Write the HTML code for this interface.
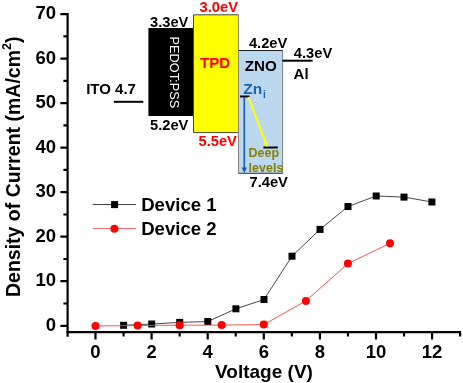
<!DOCTYPE html>
<html><head><meta charset="utf-8"><style>
html,body{margin:0;padding:0;background:#fff;}
svg{display:block;}
text{font-family:"Liberation Sans",Arial,sans-serif;}
.b{font-weight:bold;}
</style></head><body>
<svg width="463" height="383" viewBox="0 0 463 383">
<rect x="0" y="0" width="463" height="383" fill="#fff"/>
<!-- axes -->
<g stroke="#000" stroke-width="2.2" fill="none">
<line x1="67.6" y1="13" x2="67.6" y2="336.8"/>
<line x1="66.5" y1="332.2" x2="461" y2="332.2"/>
<!-- y major ticks -->
<path d="M60.4 14.1H67.6M60.4 58.6H67.6M60.4 103.1H67.6M60.4 147.6H67.6M60.4 192.2H67.6M60.4 236.7H67.6M60.4 281.2H67.6M60.4 325.8H67.6"/>
<!-- y minor ticks -->
<path d="M63.4 36.4H67.6M63.4 80.9H67.6M63.4 125.4H67.6M63.4 169.9H67.6M63.4 214.5H67.6M63.4 259H67.6M63.4 303.5H67.6"/>
<!-- x major ticks -->
<path d="M95.5 332.2V339.4M151.6 332.2V339.4M207.7 332.2V339.4M263.8 332.2V339.4M319.9 332.2V339.4M376 332.2V339.4M432.1 332.2V339.4"/>
<!-- x minor ticks -->
<path d="M123.55 332.2V336.6M179.65 332.2V336.6M235.75 332.2V336.6M291.85 332.2V336.6M347.95 332.2V336.6M404.05 332.2V336.6M460.1 332.2V336.6"/>
</g>
<!-- y tick labels -->
<g class="b" font-size="18.5" text-anchor="end">
<text x="56" y="19.3">70</text>
<text x="56" y="63.8">60</text>
<text x="56" y="108.3">50</text>
<text x="56" y="152.8">40</text>
<text x="56" y="197.4">30</text>
<text x="56" y="241.9">20</text>
<text x="56" y="286.4">10</text>
<text x="56" y="331">0</text>
</g>
<!-- x tick labels -->
<g class="b" font-size="18.5" text-anchor="middle">
<text x="95.5" y="358">0</text>
<text x="151.6" y="358">2</text>
<text x="207.7" y="358">4</text>
<text x="263.8" y="358">6</text>
<text x="319.9" y="358">8</text>
<text x="376" y="358">10</text>
<text x="432.1" y="358">12</text>
</g>
<!-- axis titles -->
<text class="b" font-size="19" x="264" y="377.6" text-anchor="middle">Voltage (V)</text>
<text class="b" font-size="19.5" transform="translate(20.4,297) rotate(-90)">Density of Current (mA/cm<tspan font-size="12.5" dy="-9">2</tspan><tspan dy="9">)</tspan></text>

<!-- Device 1 -->
<polyline fill="none" stroke="#333" stroke-width="0.9" points="123.6,325.3 151.7,324 179.7,322.4 207.8,321.5 235.9,308.8 264,299.5 292,256.2 320,229.4 348,206.5 376.2,196 404,197.1 431.9,202"/>
<g fill="#000">
<rect x="120.1" y="321.8" width="7" height="7"/>
<rect x="148.2" y="320.5" width="7" height="7"/>
<rect x="176.2" y="318.9" width="7" height="7"/>
<rect x="204.3" y="318" width="7" height="7"/>
<rect x="232.4" y="305.3" width="7" height="7"/>
<rect x="260.5" y="296" width="7" height="7"/>
<rect x="288.5" y="252.7" width="7" height="7"/>
<rect x="316.5" y="225.9" width="7" height="7"/>
<rect x="344.5" y="203" width="7" height="7"/>
<rect x="372.7" y="192.5" width="7" height="7"/>
<rect x="400.5" y="193.6" width="7" height="7"/>
<rect x="428.4" y="198.5" width="7" height="7"/>
</g>
<!-- Device 2 -->
<polyline fill="none" stroke="#ff4040" stroke-width="0.9" points="95.5,325.9 137.6,325.6 179.6,325.2 221.7,325.1 263.8,324.6 305.9,300.9 347.9,263.6 390,243.3"/>
<g fill="#f00">
<circle cx="95.5" cy="325.9" r="4"/>
<circle cx="137.6" cy="325.6" r="4"/>
<circle cx="179.6" cy="325.2" r="4"/>
<circle cx="221.7" cy="325.1" r="4"/>
<circle cx="263.8" cy="324.6" r="4"/>
<circle cx="305.9" cy="300.9" r="4"/>
<circle cx="347.9" cy="263.6" r="4"/>
<circle cx="390" cy="243.3" r="4"/>
</g>

<!-- legend -->
<line x1="92.8" y1="204.5" x2="136" y2="204.5" stroke="#444" stroke-width="1"/>
<rect x="111.1" y="201.1" width="7" height="7" fill="#000"/>
<line x1="92.8" y1="228.5" x2="136" y2="228.5" stroke="#ff6a6a" stroke-width="1"/>
<circle cx="114.4" cy="228.7" r="4" fill="#f00"/>
<text class="b" font-size="18.6" x="141.2" y="211.3">Device 1</text>
<text class="b" font-size="18.6" x="141.2" y="234.9">Device 2</text>

<!-- inset energy diagram -->
<rect x="148.4" y="28" width="45.1" height="88" fill="#000"/>
<rect x="193.5" y="14.8" width="45" height="117.8" fill="#ff0"/>
<rect x="238.5" y="50.5" width="44" height="122.8" fill="#bcd8ee"/>
<g fill="none" stroke-width="1">
<path d="M193.5 132.6V14.8H238.5M193.5 132.6H238.5" stroke="#444"/>
<path d="M238.5 14.8V173.3" stroke="#858585"/>
<path d="M238.5 50.5H283" stroke="#222"/>
<path d="M238.5 173.3H283" stroke="#333"/>
<path d="M282.6 50.5V173.8" stroke="#7a7f85"/>
</g>
<g stroke="#000" stroke-width="2">
<line x1="113.8" y1="101.8" x2="143.3" y2="101.8"/>
<line x1="282.5" y1="60.7" x2="312.6" y2="60.7"/>
<line x1="240.1" y1="96.5" x2="249.5" y2="96.5"/>
<line x1="263.4" y1="147.5" x2="277.8" y2="147.5"/>
</g>
<line x1="244.3" y1="97" x2="244.3" y2="168" stroke="#165aa5" stroke-width="1.6"/>
<path d="M241.7 167.5L246.9 167.5L244.3 173Z" fill="#165aa5"/>
<line x1="248.4" y1="97" x2="265.6" y2="142.6" stroke="#ff0" stroke-width="2"/>
<path d="M263.1 143.6L268.2 141.7L267.4 147.3Z" fill="#ff0"/>

<g class="b" font-size="15">
<text font-size="14.7" x="150" y="27">3.3eV</text>
<text font-size="14.7" x="199.6" y="12.2" fill="#f00">3.0eV</text>
<text x="200" y="68.3" fill="#f00">TPD</text>
<text font-size="14.7" x="248.9" y="47.8">4.2eV</text>
<text x="244.7" y="71.1" font-size="15.2">ZNO</text>
<text font-size="14.7" x="293.8" y="57.7">4.3eV</text>
<text x="293.6" y="78.8">Al</text>
<text x="86.2" y="93.8">ITO 4.7</text>
<text font-size="14.7" x="150" y="130">5.2eV</text>
<text font-size="14.7" x="198.5" y="145.8" fill="#f00">5.5eV</text>
<text font-size="14.7" x="249.5" y="186.8">7.4eV</text>
<text x="243.3" y="93.8" fill="#1c62ae" font-size="15.5">Zn<tspan font-size="10" dx="0.8" dy="4.6">i</tspan></text>
</g>
<g class="b" font-size="12.5" fill="#868000">
<text x="248.6" y="156.5">Deep</text>
<text x="248.6" y="171.5">levels</text>
</g>
<text font-size="12.75" fill="#fff" transform="translate(170,36.6) rotate(90)">PEDOT:PSS</text>
</svg>
</body></html>
